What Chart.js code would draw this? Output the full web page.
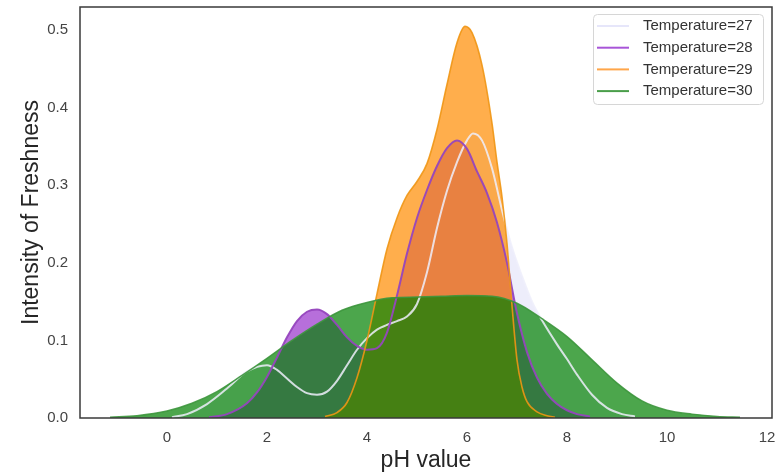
<!DOCTYPE html>
<html><head><meta charset="utf-8">
<script src="https://cdn.jsdelivr.net/npm/chart.js@4/dist/chart.umd.min.js"></script>
<style>html,body{margin:0;padding:0;background:#fff}#wrap{width:777px;height:475px}</style>
</head><body><div id="wrap"><canvas id="c" width="777" height="475"></canvas></div>
<script>
const seriesLabels = ['Temperature=27','Temperature=28','Temperature=29','Temperature=30'];
const xTicks = [0,2,4,6,8,10,12];
const yTicks = [0,0.1,0.2,0.3,0.4,0.5];

const ph27 = [0.1,0.4,0.8,1.2,1.6,2.0,2.2,2.4,2.6,2.8,3.0,3.2,3.4,3.6,3.8,4.0,4.2,4.4,4.6,4.8,5.0,5.2,5.4,5.6,5.8,6.0,6.12,6.3,6.5,6.7,6.9,7.1,7.3,7.5,7.8,8.0,8.2,8.5,8.8,9.1,9.36];
const dens27 = [0.001,0.005,0.018,0.038,0.06,0.068,0.062,0.051,0.04,0.032,0.03,0.034,0.048,0.068,0.088,0.103,0.114,0.12,0.125,0.131,0.147,0.188,0.245,0.293,0.33,0.358,0.367,0.358,0.322,0.268,0.22,0.183,0.15,0.126,0.095,0.076,0.056,0.03,0.013,0.005,0.002];

const ph28 = [0.84,1.2,1.6,1.8,2.0,2.2,2.4,2.6,2.8,3.0,3.2,3.4,3.6,3.8,4.0,4.2,4.4,4.6,4.8,5.0,5.2,5.4,5.6,5.8,6.0,6.2,6.4,6.6,6.8,7.0,7.2,7.4,7.6,7.8,8.0,8.2,8.46];
const dens28 = [0.001,0.005,0.019,0.033,0.053,0.078,0.104,0.125,0.137,0.14,0.134,0.12,0.104,0.093,0.088,0.09,0.11,0.158,0.212,0.258,0.294,0.325,0.348,0.358,0.347,0.318,0.29,0.252,0.2,0.135,0.085,0.052,0.031,0.018,0.01,0.005,0.002];

const ph29 = [3.16,3.4,3.6,3.8,4.0,4.2,4.4,4.6,4.8,5.0,5.2,5.4,5.6,5.8,5.96,6.1,6.3,6.5,6.6,6.7,6.8,6.9,7.0,7.1,7.2,7.4,7.6,7.76];
const dens29 = [0.002,0.007,0.02,0.052,0.1,0.16,0.218,0.258,0.287,0.305,0.328,0.372,0.43,0.484,0.505,0.497,0.455,0.38,0.33,0.285,0.225,0.145,0.075,0.04,0.021,0.008,0.003,0.001];

const ph30 = [-1.14,-0.6,0,0.5,1.0,1.5,2.0,2.5,3.0,3.5,4.0,4.5,5.0,5.5,6.0,6.5,7.0,7.5,8.0,8.5,9.0,9.5,10.0,10.5,11.0,11.46];
const dens30 = [0.001,0.003,0.009,0.019,0.034,0.055,0.077,0.1,0.121,0.139,0.149,0.155,0.156,0.157,0.158,0.157,0.148,0.128,0.105,0.075,0.045,0.022,0.01,0.005,0.002,0.001];

const pts = (xs, ys) => xs.map((x, i) => ({x: x, y: ys[i]}));

const frameAndLegend = {
  id: 'frameAndLegend',
  afterDraw(chart) {
    const ctx = chart.ctx;
    const a = chart.chartArea;
    ctx.save();
    ctx.strokeStyle = '#3a3a3a';
    ctx.lineWidth = 1.5;
    ctx.strokeRect(a.left, a.top, a.right - a.left, a.bottom - a.top);
    // legend
    const bx = a.right - 179, by = a.top + 7, bw = 170, bh = 90;
    ctx.fillStyle = 'rgba(255,255,255,0.85)';
    ctx.strokeStyle = '#d6d6d6';
    ctx.lineWidth = 1;
    ctx.beginPath();
    ctx.roundRect(bx + 0.5, by + 0.5, bw, bh, 4);
    ctx.fill(); ctx.stroke();
    ctx.font = '15px "Liberation Sans", Arial, sans-serif';
    ctx.textBaseline = 'middle';
    ctx.textAlign = 'left';
    chart.data.datasets.forEach((ds, i) => {
      const y = by + 12 + i * 21.7;
      ctx.strokeStyle = ds.legendColor;
      ctx.lineWidth = 2;
      ctx.beginPath();
      ctx.moveTo(bx + 4, y); ctx.lineTo(bx + 36, y);
      ctx.stroke();
      ctx.fillStyle = '#333';
      ctx.fillText(ds.label, bx + 50, y);
    });
    ctx.restore();
  }
};

const fills = ['rgba(230,230,250,0.7)','rgba(153,50,204,0.7)','rgba(255,140,0,0.7)','rgba(0,128,0,0.7)'];
const lines = ['rgba(238,238,252,0.85)','rgba(150,70,190,0.95)','rgba(240,150,20,0.9)','rgba(60,150,60,0.9)'];
const legendCols = ['#e6e6fa','#a855d8','#ffa64a','#4a9e4a'];
const widths = [2, 2, 1.6, 1.5];
const series = [pts(ph27,dens27), pts(ph28,dens28), pts(ph29,dens29), pts(ph30,dens30)];

const zeroPad = s => { s.paddingTop = 0; s.paddingBottom = 0; s.paddingLeft = 0; s.paddingRight = 0; };

new Chart(document.getElementById('c'), {
  type: 'line',
  data: {
    datasets: series.map((d, i) => ({
      label: seriesLabels[i],
      data: d,
      order: 4 - i,
      fill: 'origin',
      backgroundColor: fills[i],
      borderColor: lines[i],
      borderWidth: widths[i],
      legendColor: legendCols[i],
      pointRadius: 0,
      cubicInterpolationMode: 'monotone'
    }))
  },
  options: {
    responsive: false,
    animation: false,
    devicePixelRatio: 1,
    layout: {padding: {top: 7, right: 5, left: 0, bottom: 0}},
    plugins: {
      legend: {display: false},
      tooltip: {enabled: false},
      filler: {drawTime: 'beforeDatasetsDraw'}
    },
    scales: {
      x: {
        type: 'linear', min: -1.74, max: 12.1,
        afterBuildTicks: s => { s.ticks = xTicks.map(v => ({value: v})); },
        afterFit: s => { s.height = 57; zeroPad(s); },
        grid: {display: false, drawTicks: false},
        border: {display: false},
        ticks: {color: '#444', padding: 11, font: {size: 15, family: '"Liberation Sans", Arial, sans-serif'}},
        title: {display: true, text: 'pH value', color: '#262626', padding: {top: 0, bottom: 1},
                font: {size: 23, family: '"Liberation Sans", Arial, sans-serif'}}
      },
      y: {
        type: 'linear', min: 0, max: 0.53,
        afterBuildTicks: s => { s.ticks = yTicks.map(v => ({value: v})); },
        afterFit: s => { s.width = 80; zeroPad(s); },
        grid: {display: false, drawTicks: false},
        border: {display: false},
        ticks: {color: '#444', padding: 12, callback: v => v.toFixed(1),
                font: {size: 15, family: '"Liberation Sans", Arial, sans-serif'}},
        title: {display: true, text: 'Intensity of Freshness', color: '#262626', padding: {top: 18, bottom: 0},
                font: {size: 23, family: '"Liberation Sans", Arial, sans-serif'}}
      }
    }
  },
  plugins: [frameAndLegend]
});
</script></body></html>
